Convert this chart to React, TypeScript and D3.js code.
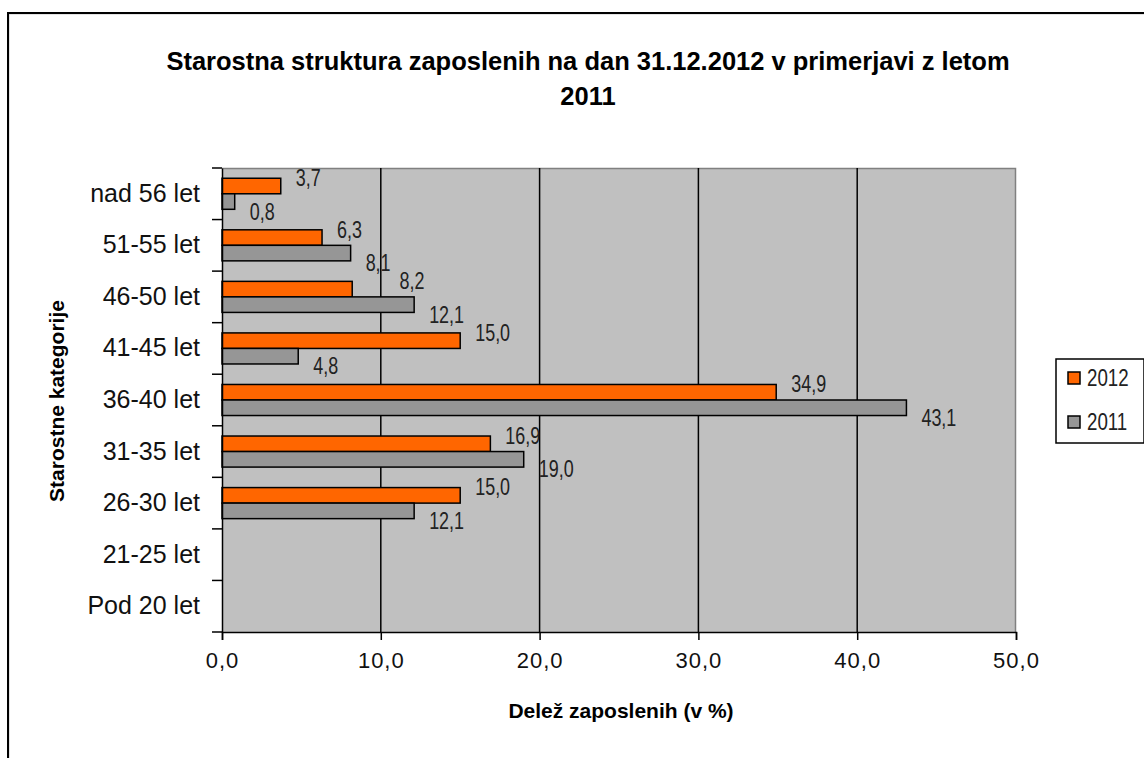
import { useEffect, useRef } from 'react';
import * as d3 from 'd3';

const categories = ['nad 56 let', '51-55 let', '46-50 let', '41-45 let', '36-40 let', '31-35 let', '26-30 let', '21-25 let', 'Pod 20 let'];
const values2012 = [3.7, 6.3, 8.2, 15.0, 34.9, 16.9, 15.0, null, null];
const values2011 = [0.8, 8.1, 12.1, 4.8, 43.1, 19.0, 12.1, null, null];
const seriesNames = ['2012', '2011'];
const xTicks = [0, 10, 20, 30, 40, 50];

const COLORS: Record<string, string> = { '2012': '#FF6600', '2011': '#969696' };
const ARIAL = "'Liberation Sans', Arial, sans-serif";
const NARROW_SCALE = 0.78;

export default function App() {
  const svgRef = useRef<SVGSVGElement>(null);

  useEffect(() => {
    if (!svgRef.current) return;
    const width = 1144;
    const height = 758;
    const margin = { top: 168, left: 222, right: 128, bottom: 126 };
    const innerW = width - margin.left - margin.right;
    const innerH = height - margin.top - margin.bottom;

    const svg = d3.select(svgRef.current);
    svg.selectAll('*').remove();
    svg.attr('width', width).attr('height', height);

    svg.append('rect').attr('width', width).attr('height', height).attr('fill', '#fff');

    // outer chart frame
    svg.append('rect')
      .attr('x', 9).attr('y', 14).attr('width', 1200).attr('height', 800)
      .attr('fill', 'none').attr('stroke', '#c8c8c8').attr('stroke-width', 1);
    svg.append('rect')
      .attr('x', 8).attr('y', 13).attr('width', 1200).attr('height', 800)
      .attr('fill', 'none').attr('stroke', '#000').attr('stroke-width', 2);

    // title
    const title = svg.append('text')
      .attr('text-anchor', 'middle')
      .attr('font-family', ARIAL)
      .attr('font-weight', 'bold')
      .attr('font-size', '25.5px')
      .attr('fill', '#000');
    title.append('tspan').attr('x', 588).attr('y', 70)
      .text('Starostna struktura zaposlenih na dan 31.12.2012 v primerjavi z letom');
    title.append('tspan').attr('x', 588).attr('y', 105).text('2011');

    const g = svg.append('g').attr('transform', `translate(${margin.left},${margin.top})`);

    const x = d3.scaleLinear().domain([0, 50]).range([0, innerW]);
    const y = d3.scaleBand().domain(categories).range([0, innerH]);
    const ySub = d3.scaleBand().domain(seriesNames).range([0, y.bandwidth()]).paddingOuter(0.66);

    // plot area
    g.append('rect').attr('width', innerW).attr('height', innerH).attr('fill', '#C0C0C0');
    g.append('path')
      .attr('d', `M0,0.5H${innerW - 0.5}V${innerH}`)
      .attr('fill', 'none').attr('stroke', '#808080').attr('stroke-width', 1.5);

    // gridlines
    g.selectAll('.grid')
      .data(xTicks.filter(t => t > 0 && t < 50))
      .join('line')
      .attr('x1', d => x(d)).attr('x2', d => x(d))
      .attr('y1', 0).attr('y2', innerH)
      .attr('stroke', '#000').attr('stroke-width', 1.5);

    const items: { cat: string; series: string; v: number }[] = [];
    categories.forEach((c, i) => [values2012[i], values2011[i]].forEach((v, j) => {
      if (v != null) items.push({ cat: c, series: seriesNames[j], v });
    }));

    // bars
    g.selectAll('.bar')
      .data(items)
      .join('rect')
      .attr('x', 0)
      .attr('y', d => (y(d.cat) as number) + (ySub(d.series) as number))
      .attr('width', d => x(d.v))
      .attr('height', ySub.bandwidth())
      .attr('fill', d => COLORS[d.series])
      .attr('stroke', '#000')
      .attr('stroke-width', 1.5);

    // value labels (condensed look), nudged right when they would collide with the label above
    let prev: { x0: number; x1: number; y: number } | null = null;
    items.forEach(d => {
      const cy = (y(d.cat) as number) + (ySub(d.series) as number) + ySub.bandwidth() / 2 + (d.series === '2012' ? -8 : 10);
      let lx = x(d.v) + 15;
      const t = g.append('text')
        .attr('dy', '0.35em')
        .attr('font-family', ARIAL)
        .attr('font-size', '23px')
        .attr('fill', '#222')
        .text(d.v.toFixed(1).replace('.', ','));
      const w = (t.node() as SVGTextElement).getComputedTextLength() * NARROW_SCALE;
      if (prev && Math.abs(prev.y - cy) < 20 && lx < prev.x1 + 6 && lx + w > prev.x0) lx = prev.x1 + 9;
      t.attr('transform', `translate(${lx},${cy}) scale(${NARROW_SCALE},1)`);
      prev = { x0: lx, x1: lx + w, y: cy };
    });

    // axes
    const fmt = (d: d3.NumberValue) => d3.format('.1f')(d as number).replace('.', ',');
    const xAxis = g.append('g')
      .attr('transform', `translate(0,${innerH})`)
      .call(d3.axisBottom(x).tickValues(xTicks).tickFormat(fmt).tickSize(8).tickPadding(12));
    xAxis.selectAll('text')
      .attr('font-family', ARIAL).attr('font-size', '22px').attr('fill', '#111')
      .attr('letter-spacing', '1px');

    const yAxis = g.append('g')
      .call(d3.axisLeft(y).tickSize(0).tickPadding(22));
    yAxis.selectAll('text')
      .attr('font-family', ARIAL).attr('font-size', '25px').attr('fill', '#111');
    // category separators on y axis
    g.selectAll('.ytick')
      .data(d3.range(categories.length + 1))
      .join('line')
      .attr('x1', -10).attr('x2', 0)
      .attr('y1', i => i * y.step()).attr('y2', i => i * y.step())
      .attr('stroke', '#000').attr('stroke-width', 1.5);

    svg.selectAll('.domain').attr('stroke', '#000').attr('stroke-width', 1.5);
    svg.selectAll('.tick line').attr('stroke', '#000').attr('stroke-width', 1.5);

    // axis titles
    svg.append('text')
      .attr('x', 621).attr('y', 718)
      .attr('text-anchor', 'middle')
      .attr('font-family', ARIAL).attr('font-weight', 'bold').attr('font-size', '21px')
      .text('Delež zaposlenih (v %)');
    svg.append('text')
      .attr('transform', 'translate(64,401) rotate(-90)')
      .attr('text-anchor', 'middle')
      .attr('font-family', ARIAL).attr('font-weight', 'bold').attr('font-size', '21px')
      .text('Starostne kategorije');

    // legend
    const lg = svg.append('g').attr('transform', 'translate(1056,359)');
    lg.append('rect').attr('width', 88).attr('height', 84)
      .attr('fill', '#fff').attr('stroke', '#000').attr('stroke-width', 1.5);
    seriesNames.forEach((s, i) => {
      const row = lg.append('g').attr('transform', `translate(0,${19 + i * 44})`);
      row.append('rect').attr('x', 12).attr('y', -6).attr('width', 12).attr('height', 12)
        .attr('fill', COLORS[s]).attr('stroke', '#000').attr('stroke-width', 1.5);
      row.append('text')
        .attr('transform', `translate(31,0) scale(${NARROW_SCALE},1)`)
        .attr('dy', '0.35em')
        .attr('font-family', ARIAL).attr('font-size', '24px').attr('fill', '#222')
        .text(s);
    });
  }, []);

  return (
    <div style={{ position: 'absolute', left: 0, top: 0 }}>
      <svg ref={svgRef}></svg>
    </div>
  );
}
